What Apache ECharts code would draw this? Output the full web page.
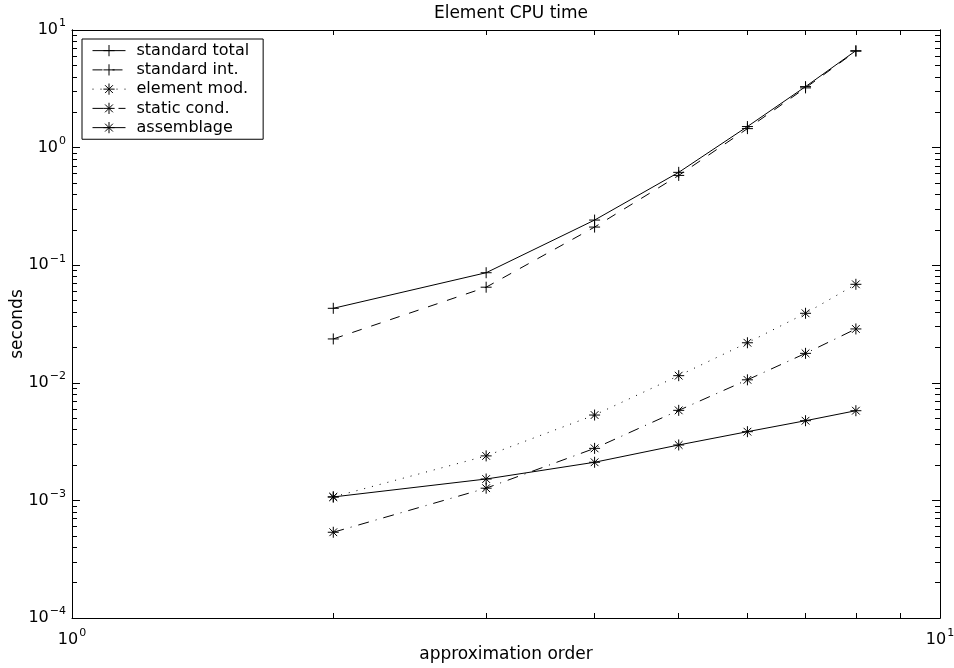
<!DOCTYPE html>
<html>
<head>
<meta charset="utf-8">
<script src="https://cdn.jsdelivr.net/npm/echarts@6/dist/echarts.min.js"></script>
<style>html,body{margin:0;padding:0;background:#fff}#c{width:954px;height:668px}</style>
</head>
<body>
<div id="c"></div>
<script>
const xValues = [2, 3, 4, 5, 6, 7, 8];
const standardTotal = [0.043, 0.0863, 0.242, 0.616, 1.51, 3.3, 6.67];
const standardInt = [0.0236, 0.065, 0.211, 0.58, 1.45, 3.22, 6.6];
const elementMod = [1.07e-3, 2.39e-3, 5.32e-3, 0.0115, 0.0219, 0.039, 0.0688];
const staticCond = [5.36e-4, 1.27e-3, 2.77e-3, 5.83e-3, 0.0106, 0.0178, 0.0287];
const assemblage = [1.07e-3, 1.52e-3, 2.11e-3, 2.96e-3, 3.84e-3, 4.76e-3, 5.79e-3];
const xTickLabels = [1, 10];
const yTickLabels = [1e-4, 1e-3, 1e-2, 1e-1, 1, 10];
const minorSteps = [2, 3, 4, 5, 6, 7, 8, 9];

const xTicks = [1].concat(minorSteps, [10]);
const yMinor = [];
yTickLabels.forEach(d => { if (d < 10) minorSteps.forEach(m => yMinor.push(d * m)); });

const FONT = 'DejaVu Sans';
function powLabel(v) {
  const e = Math.round(Math.log10(v));
  return '{b|10}{s|' + (e < 0 ? '\u2212' + (-e) : e) + '}';
}
const rich = {
  b: { fontSize: 16, fontFamily: FONT, color: '#000' },
  s: { fontSize: 11, fontFamily: FONT, color: '#000', padding: [0, 0, 13, 1] }
};
const PLUS = 'path://M0,-10L0,10M-10,0L10,0';
const STAR = 'path://M0,-10L0,10M-10,0L10,0M-7,-7L7,7M-7,7L7,-7';

function axisBase(extra) {
  return Object.assign({
    type: 'log', logBase: 10,
    axisLine: { show: true, onZero: false, lineStyle: { color: '#000', width: 1 } },
    splitLine: { show: false },
    minorTick: { show: false },
    axisLabel: { show: false }
  }, extra);
}
function ticks(vals, len) {
  return { show: true, inside: true, length: len, customValues: vals, lineStyle: { color: '#000', width: 1 } };
}
function mk(name, data, symbol, lineType) {
  return {
    name, type: 'line', data: xValues.map((x, i) => [x, data[i]]),
    xAxisIndex: 0, yAxisIndex: 0,
    symbol, symbolSize: 11, showSymbol: true,
    itemStyle: { color: 'none', borderColor: '#000', borderWidth: 1 },
    lineStyle: { color: '#000', width: 1, type: lineType },
    emphasis: { disabled: true }, animation: false
  };
}
const chart = echarts.init(document.getElementById('c'), null, { renderer: 'canvas' });
chart.setOption({
  backgroundColor: '#fff',
  animation: false,
  title: {
    text: 'Element CPU time', left: 506, top: 0, textAlign: 'center',
    textStyle: { fontFamily: FONT, fontSize: 17, fontWeight: 'normal', color: '#000' }
  },
  grid: { left: 72, right: 14, top: 30, bottom: 50, containLabel: false, outerBoundsMode: 'none' },
  legend: {
    left: 82, top: 39, orient: 'vertical',
    backgroundColor: '#fff', borderColor: '#000', borderWidth: 1, borderRadius: 0,
    padding: [2, 14, 2, 10], itemGap: 0, itemWidth: 33, itemHeight: 14,
    lineStyle: { width: 1 },
    itemStyle: { borderWidth: 1 },
    textStyle: { fontFamily: FONT, fontSize: 16, color: '#000', lineHeight: 19.25, padding: [0, 0, 0, 6] },
    data: ['standard total', 'standard int.', 'element mod.', 'static cond.', 'assemblage']
  },
  xAxis: [
    axisBase({
      min: 1, max: 10, position: 'bottom',
      name: 'approximation order', nameLocation: 'middle', nameGap: 28, nameMoveOverlap: false,
      nameTextStyle: { fontFamily: FONT, fontSize: 17, color: '#000' },
      axisTick: ticks(xTicks, 5),
      axisLabel: { show: true, customValues: xTickLabels, formatter: powLabel, rich, margin: 10 }
    }),
    axisBase({ min: 1, max: 10, position: 'top', axisTick: ticks(xTicks, 5) })
  ],
  yAxis: [
    axisBase({
      min: 1e-4, max: 10, position: 'left',
      name: 'seconds', nameLocation: 'middle', nameGap: 46, nameRotate: 90, nameMoveOverlap: false,
      nameTextStyle: { fontFamily: FONT, fontSize: 17, color: '#000' },
      axisTick: ticks(yTickLabels, 8),
      axisLabel: { show: true, customValues: yTickLabels, formatter: powLabel, rich, margin: 6 }
    }),
    axisBase({ min: 1e-4, max: 10, position: 'right', axisTick: ticks(yTickLabels, 8) }),
    axisBase({ min: 1e-4, max: 10, position: 'left', axisTick: ticks(yMinor, 5) }),
    axisBase({ min: 1e-4, max: 10, position: 'right', axisTick: ticks(yMinor, 5) })
  ],
  series: [
    mk('standard total', standardTotal, PLUS, 'solid'),
    mk('standard int.', standardInt, PLUS, [10, 10]),
    mk('element mod.', elementMod, STAR, [1, 7]),
    mk('static cond.', staticCond, STAR, [11, 7, 1, 7]),
    mk('assemblage', assemblage, STAR, 'solid')
  ]
});
</script>
</body>
</html>
